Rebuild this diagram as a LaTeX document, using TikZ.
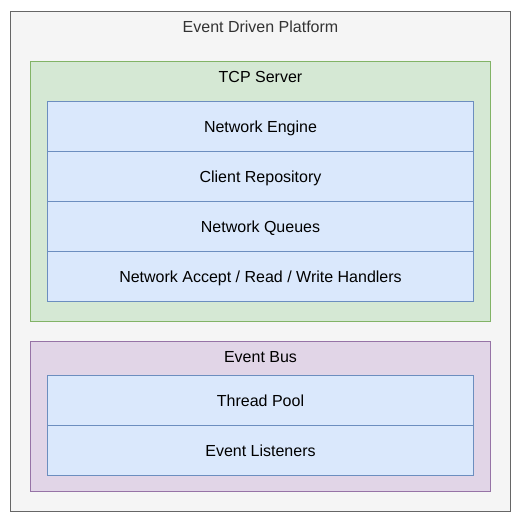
\documentclass[tikz,border=0pt]{standalone}
\usepackage{fontspec}
\setmainfont{Liberation Sans}
\definecolor{outerfill}{HTML}{F5F5F5}
\definecolor{outerdraw}{HTML}{666666}
\definecolor{greenfill}{HTML}{D5E8D4}
\definecolor{greendraw}{HTML}{82B366}
\definecolor{bluefill}{HTML}{DAE8FC}
\definecolor{bluedraw}{HTML}{6C8EBF}
\definecolor{purplefill}{HTML}{E1D5E7}
\definecolor{purpledraw}{HTML}{9673A6}
\definecolor{darktext}{HTML}{333333}
\begin{document}
\begin{tikzpicture}[x=1pt,y=-1pt,
  box/.style={draw, line width=1pt},
  outerbox/.style={box, fill=outerfill, draw=outerdraw},
  greenbox/.style={box, fill=greenfill, draw=greendraw},
  purplebox/.style={box, fill=purplefill, draw=purpledraw},
  rowbox/.style={box, fill=bluefill, draw=bluedraw, minimum width=426pt, minimum height=50pt, font=\fontsize{16}{19}\selectfont, text=black, inner sep=0pt, text height=11.5pt, text depth=0pt},
  title/.style={font=\fontsize{16}{19}\selectfont, inner sep=0pt, text height=11.5pt, text depth=0pt}
]
\useasboundingbox (0,0) rectangle (528,521);
\draw[outerbox] (10.5,11.5) rectangle (510.5,511.5);
\node[title, text=darktext] (platform) at (260.5,27) {Event Driven Platform};
\draw[greenbox] (30.5,61.5) rectangle (490.5,321.5);
\node[title] (tcp) at (260.5,77) {TCP Server};
\node[rowbox] (engine) at (260.5,126.5) {Network Engine};
\node[rowbox] (repo) at (260.5,176.5) {Client Repository};
\node[rowbox] (queues) at (260.5,226.5) {Network Queues};
\node[rowbox] (handlers) at (260.5,276.5) {Network Accept / Read / Write Handlers};
\draw[purplebox] (30.5,341.5) rectangle (490.5,491.5);
\node[title] (bus) at (260.5,357) {Event Bus};
\node[rowbox] (pool) at (260.5,400.5) {Thread Pool};
\node[rowbox] (listeners) at (260.5,450.5) {Event Listeners};
\end{tikzpicture}
\end{document}
